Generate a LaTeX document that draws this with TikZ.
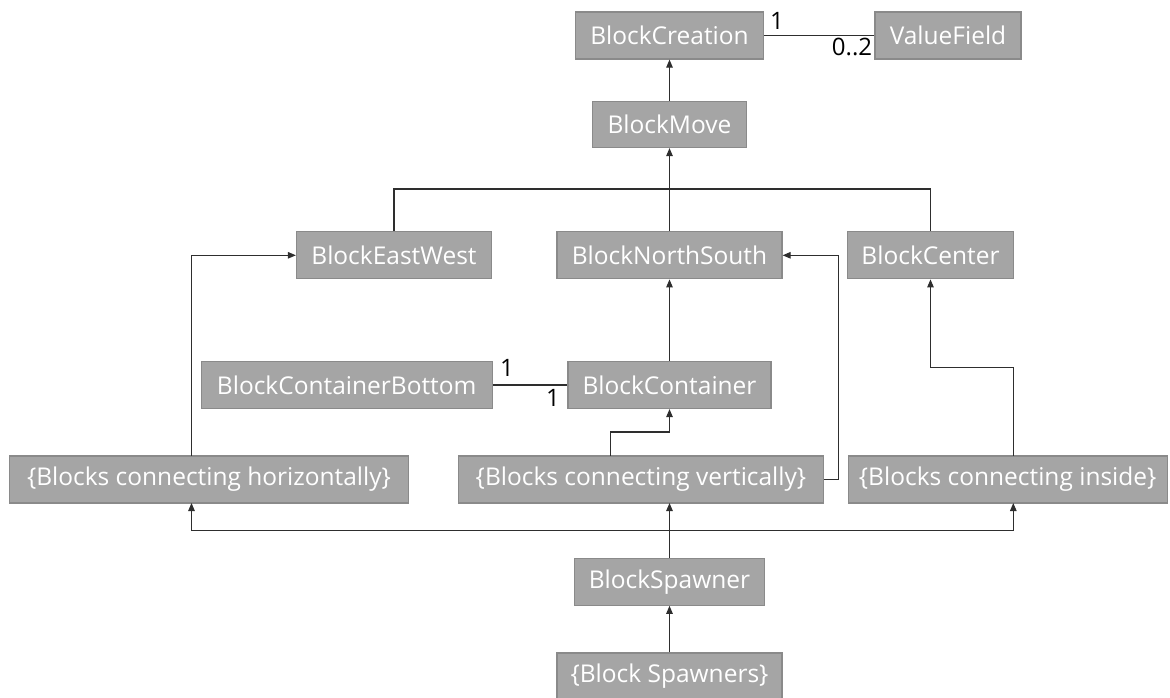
\documentclass[tikz,border=0pt]{standalone}
\usepackage{fontspec}
\setmainfont{Open Sans}
\usetikzlibrary{arrows.meta}
\definecolor{boxfill}{HTML}{A5A5A5}
\definecolor{boxline}{HTML}{8A8A8A}
\definecolor{wire}{HTML}{2E2E2E}
\tikzset{
  blk/.style={draw=boxline, line width=1.2pt, fill=boxfill, text=white, inner sep=0pt,
    minimum height=47pt, font=\fontsize{24.5}{28}\selectfont},
  conn/.style={draw=wire, line width=1.1pt},
  arr/.style={conn, -{Triangle[length=8pt,width=6.5pt]}},
  mult/.style={inner sep=0pt, text=black, font=\fontsize{24}{28}\selectfont}
}
\begin{document}
\begin{tikzpicture}[x=1pt,y=-1pt]
\useasboundingbox (0,0) rectangle (1170,698);
% boxes
\node[blk, minimum width=188pt] (bc)  at (669.5,35.5) {BlockCreation};
\node[blk, minimum width=146pt] (vf)  at (948,35.5) {ValueField};
\node[blk, minimum width=154pt, minimum height=46pt] (bm)  at (669.5,124.5) {BlockMove};
\node[blk, minimum width=195pt] (bew) at (394,255.3) {BlockEastWest};
\node[blk, minimum width=225pt] (bns) at (669.5,255.3) {BlockNorthSouth};
\node[blk, minimum width=166pt] (bce) at (930.5,255.3) {BlockCenter};
\node[blk, minimum width=291pt] (bcb) at (346.7,385) {BlockContainerBottom};
\node[blk, minimum width=203pt] (bco) at (669.5,385) {BlockContainer};
\node[blk, minimum width=399pt] (hor) at (209,479.5) {\{Blocks connecting horizontally\}};
\node[blk, minimum width=365pt] (ver) at (641,479.5) {\{Blocks connecting vertically\}};
\node[blk, minimum width=319pt] (ins) at (1007.7,479.5) {\{Blocks connecting inside\}};
\node[blk, minimum width=190pt] (bs)  at (669.5,581.7) {BlockSpawner};
\node[blk, minimum width=225pt] (bss) at (669.5,676.5) {\{Block Spawners\}};
% helper coordinates
\coordinate (topL) at (394,189);
\coordinate (topR) at (930.5,189);
\coordinate (horTop) at (191.5,456);
\coordinate (horBot) at (191.5,503);
\coordinate (verTopA) at (610.6,456);
\coordinate (verBot) at (669.5,503);
\coordinate (insTop) at (1013.3,456);
\coordinate (insBot) at (1013.3,503);
\coordinate (busL) at (191.5,530.7);
\coordinate (busM) at (669.5,530.7);
\coordinate (busR) at (1013.3,530.7);
% connectors
\draw[arr] (bm.north) -- (bc.south);
\draw[conn] (bc.east) -- (vf.west);
\node[mult] (m1) at (777,21) {1};
\node[mult] (m2) at (852,47) {0..2};
\draw[conn] (bew.north) -- (topL) -- (topR) -- (bce.north);
\draw[arr] (bns.north) -- (bm.south);
\draw[arr] (bco.north) -- (bns.south);
\draw[conn] (bcb.east) -- (bco.west);
\node[mult] (m3) at (507,367.5) {1};
\node[mult] (m4) at (553,398) {1};
\draw[arr] (horTop) |- (bew.west);
\draw[arr] (verTopA) -- (610.6,432) -| (bco.south);
\draw[arr] (ver.east) -- (838.3,479.5) |- (bns.east);
\draw[arr] (insTop) -- (1013.3,367.3) -| (bce.south);
\draw[arr] (bs.north) -- (verBot);
\draw[conn] (busL) -- (busR);
\draw[arr] (busL) -- (horBot);
\draw[arr] (busR) -- (insBot);
\draw[arr] (bss.north) -- (bs.south);
\end{tikzpicture}
\end{document}
